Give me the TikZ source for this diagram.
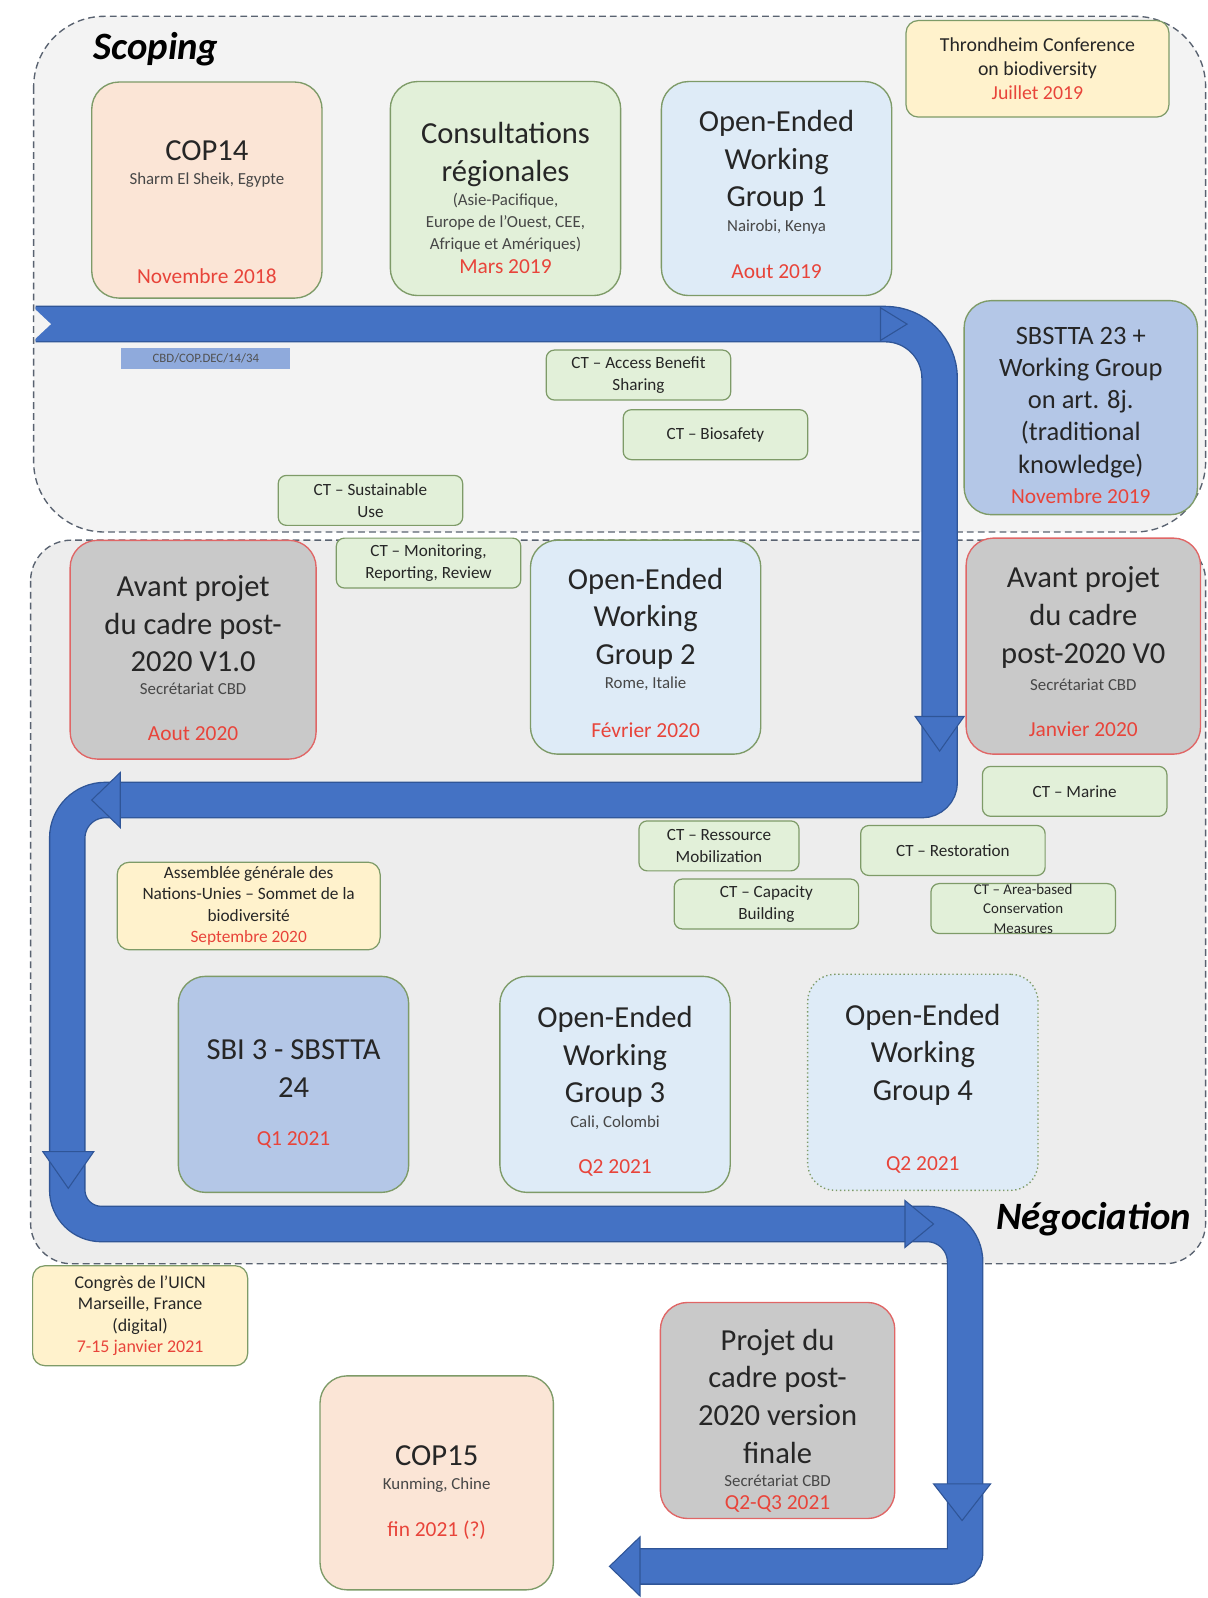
\documentclass[tikz,border=0pt]{standalone}
\usepackage{fontspec}
\setmainfont{Carlito}

\definecolor{scopefill}{HTML}{F3F3F3}
\definecolor{negofill}{HTML}{EDEDED}
\definecolor{regionline}{HTML}{596270}
\definecolor{bandblue}{HTML}{4472C4}
\definecolor{bandedge}{HTML}{2F5597}
\definecolor{peach}{HTML}{FBE5D6}
\definecolor{ctgreen}{HTML}{E2F0D9}
\definecolor{paleblue}{HTML}{DEEBF7}
\definecolor{midblue}{HTML}{B4C7E7}
\definecolor{draftgray}{HTML}{C9C9C9}
\definecolor{paleyellow}{HTML}{FFF2CC}
\definecolor{greenline}{HTML}{7E9B68}
\definecolor{redline}{HTML}{E06666}
\definecolor{datered}{HTML}{E8443A}
\definecolor{inkgray}{HTML}{262626}
\definecolor{decblue}{HTML}{8FAADC}

\newcommand{\evtitle}{\fontsize{22.5}{27.8}\selectfont}
\newcommand{\sbtitle}{\fontsize{19.5}{23.6}\selectfont}
\newcommand{\evsub}{\fontsize{12.4}{16}\selectfont}
\newcommand{\evdate}{\fontsize{15.75}{19}\selectfont}
\newcommand{\cttext}{\fontsize{12.6}{15.8}\selectfont}
\newcommand{\notetext}{\fontsize{13}{15.8}\selectfont}
\newcommand{\phasetext}{\fontsize{28.5}{34}\selectfont\bfseries\itshape}

\begin{document}
\begin{tikzpicture}[x=0.75pt,y=-0.75pt,
    region/.style={draw=regionline,line width=1pt,dash pattern=on 5pt off 3pt},
    phase/.style={text=black,font=\phasetext,inner sep=0pt},
    event/.style={rectangle,rounded corners=20pt,line width=1pt,draw=greenline,
                  inner sep=0pt,minimum width=169.5pt,minimum height=159pt},
    draft/.style={fill=draftgray,draw=redline},
    title/.style={text=inkgray,align=center,font=\evtitle,inner sep=0pt},
    sub/.style={text=inkgray!85,align=center,font=\evsub,inner sep=0pt},
    date/.style={text=datered,font=\evdate,inner sep=0pt},
    ct/.style={rectangle,rounded corners=6pt,line width=0.9pt,draw=greenline,fill=ctgreen,
               inner sep=0pt,minimum width=135.75pt,minimum height=36.75pt,
               align=center,text=inkgray,font=\cttext},
    note/.style={rectangle,rounded corners=9pt,line width=0.9pt,draw=greenline,fill=paleyellow,
                 inner sep=0pt,align=center,text=inkgray,font=\notetext},
    head/.style={fill=bandblue,draw=bandedge,line width=0.8pt,line join=miter}]

\useasboundingbox (0,0) rectangle (1185,1568);

% phases
\draw[region,fill=scopefill,rounded corners=52pt] (33,16) rectangle (1183,522);
\draw[region,fill=negofill,rounded corners=30pt] (30,530) rectangle (1183,1240);
\node[phase] (scoping) at (153,48) {Scoping};
\node[phase] (nego) at (1073,1196) {Négociation};

% blue band
\foreach \w/\c in {27pt/bandedge,25pt/bandblue}
  \draw[line width=\w,draw=\c] (35,318) [rounded corners=40pt] -- (922,318)
    [rounded corners=13pt] -- (922,785) [rounded corners=28pt] -- (66,785)
    [rounded corners=25pt] -- (66,1201) [rounded corners=28pt] -- (947,1201)
    [rounded corners=10pt] -- (947,1537) -- (628,1537);
\fill[scopefill] (34,303) -- (50,318) -- (34,333) -- cycle;
\filldraw[head] (864,302) -- (890,318) -- (864,334) -- cycle;
\filldraw[head] (898,703) -- (922,737) -- (946,703) -- cycle;
\filldraw[head] (118,758) -- (90,785) -- (118,812) -- cycle;
\filldraw[head] (42,1130) -- (67,1166) -- (92,1130) -- cycle;
\filldraw[head] (888,1178) -- (916,1201) -- (888,1224) -- cycle;
\filldraw[head] (916,1456) -- (944,1492) -- (972,1456) -- cycle;
\filldraw[head] (628,1508) -- (598,1537) -- (628,1566) -- cycle;

% scoping
\node[event,fill=peach] (cop14) at (203,186.5) {};
\node[title] (cop14t) at (203,148) {COP14};
\node[sub] (cop14s) at (203,177) {Sharm El Sheik, Egypte};
\node[date] (cop14d) at (203,271) {Novembre 2018};

\node[event,fill=ctgreen,minimum height=157.5pt] (consult) at (496,185) {};
\node[title] (consultt) at (496,151.5) {Consultations\\régionales};
\node[sub] (consults) at (496,218.5) {(Asie-Pacifique,\\Europe de l'Ouest, CEE,\\Afrique et Amériques)};
\node[date] (consultd) at (496,262) {Mars 2019};

\node[event,fill=paleblue,minimum height=157.5pt] (oewg1) at (762,185) {};
\node[title] (oewg1t) at (762,158) {Open-Ended\\Working\\Group 1};
\node[sub] (oewg1s) at (762,223) {Nairobi, Kenya};
\node[date] (oewg1d) at (762,267) {Aout 2019};

\node[note,minimum width=193.5pt,minimum height=71pt,font=\fontsize{14.6}{17.6}\selectfont] (thrond) at (1018,67.5)
  {Throndheim Conference\\on biodiversity\\\textcolor{datered}{Juillet 2019}};

\node[event,fill=midblue,minimum width=171.75pt,minimum height=157.5pt] (sbstta23) at (1060.5,400) {};
\node[title,font=\sbtitle] (sbstta23t) at (1060.5,395) {SBSTTA 23 +\\Working Group\\on art. 8j.\\(traditional\\knowledge)};
\node[date] (sbstta23d) at (1060.5,487) {Novembre 2019};

\node[fill=decblue,minimum width=124.5pt,minimum height=15.75pt,inner sep=0pt,
      text=inkgray!80,font=\fontsize{9.4}{11}\selectfont] (cbddec) at (202,351.5) {CBD/COP.DEC/14/34};

\node[ct] (ctabs) at (626.5,368) {CT -- Access Benefit\\Sharing};
\node[ct] (ctbio) at (702,426.5) {CT -- Biosafety};
\node[ct] (ctsust) at (363.5,491) {CT -- Sustainable\\Use};
\node[ct] (ctmon) at (420.5,552.5) {CT -- Monitoring,\\Reporting, Review};

% negociation
\node[event,draft,minimum width=181pt,minimum height=161pt] (avantv1) at (189.5,637.5) {};
\node[title] (avantv1t) at (189.5,612) {Avant projet\\du cadre post-\\2020 V1.0};
\node[sub] (avantv1s) at (189.5,676) {Secrétariat CBD};
\node[date] (avantv1d) at (189.5,720) {Aout 2020};

\node[event,fill=paleblue,minimum height=157.5pt] (oewg2) at (633.5,635) {};
\node[title] (oewg2t) at (633.5,607) {Open-Ended\\Working\\Group 2};
\node[sub] (oewg2s) at (633.5,671) {Rome, Italie};
\node[date] (oewg2d) at (633.5,716) {Février 2020};

\node[event,draft,minimum width=172.5pt] (avantv0) at (1063,634) {};
\node[title] (avantv0t) at (1063,606) {Avant projet\\du cadre\\post-2020 V0};
\node[sub] (avantv0s) at (1063,672) {Secrétariat CBD};
\node[date] (avantv0d) at (1063,716) {Janvier 2020};

\node[ct] (ctmar) at (1054.5,776.5) {CT -- Marine};
\node[ct,minimum width=117.75pt] (ctres) at (705.5,830) {CT -- Ressource\\Mobilization};
\node[ct] (ctrest) at (935,834.5) {CT -- Restoration};
\node[ct] (ctcap) at (752,887) {CT -- Capacity\\Building};
\node[ct,font=\fontsize{11}{14.2}\selectfont] (ctarea) at (1004,891.5) {CT -- Area-based\\Conservation\\Measures};

\node[note,minimum width=193.5pt,minimum height=64.5pt,font=\fontsize{12.75}{15.75}\selectfont] (assemb) at (244,889)
  {Assemblée générale des\\Nations-Unies -- Sommet de la\\biodiversité\\\textcolor{datered}{Septembre 2020}};

\node[event,fill=midblue] (sbi3) at (288,1064) {};
\node[title] (sbi3t) at (288,1048.5) {SBI 3 - SBSTTA\\24};
\node[date] (sbi3d) at (288,1119) {Q1 2021};

\node[event,fill=paleblue] (oewg3) at (603.5,1064) {};
\node[title] (oewg3t) at (603.5,1037) {Open-Ended\\Working\\Group 3};
\node[sub] (oewg3s) at (603.5,1102) {Cali, Colombi};
\node[date] (oewg3d) at (603.5,1146) {Q2 2021};

\node[event,fill=paleblue,dotted] (oewg4) at (905.5,1062) {};
\node[title] (oewg4t) at (905.5,1035) {Open-Ended\\Working\\Group 4};
\node[date] (oewg4d) at (905.5,1143) {Q2 2021};

% adoption
\node[note,minimum width=158.25pt,minimum height=73.5pt,font=\fontsize{13.2}{15.75}\selectfont] (uicn) at (137.5,1291)
  {Congrès de l'UICN\\Marseille, France\\(digital)\\\textcolor{datered}{7-15 janvier 2021}};

\node[event,draft,minimum width=172.5pt] (projet) at (763,1384) {};
\node[title] (projett) at (763,1370) {Projet du\\cadre post-\\2020 version\\finale};
\node[sub] (projets) at (763,1453) {Secrétariat CBD};
\node[date] (projetd) at (763,1476) {Q2-Q3 2021};

\node[event,fill=peach,minimum width=171.75pt,minimum height=157.5pt] (cop15) at (428.5,1455) {};
\node[title] (cop15t) at (428.5,1428) {COP15};
\node[sub] (cop15s) at (428.5,1457) {Kunming, Chine};
\node[date] (cop15d) at (428.5,1501) {fin 2021 (?)};

\end{tikzpicture}
\end{document}
